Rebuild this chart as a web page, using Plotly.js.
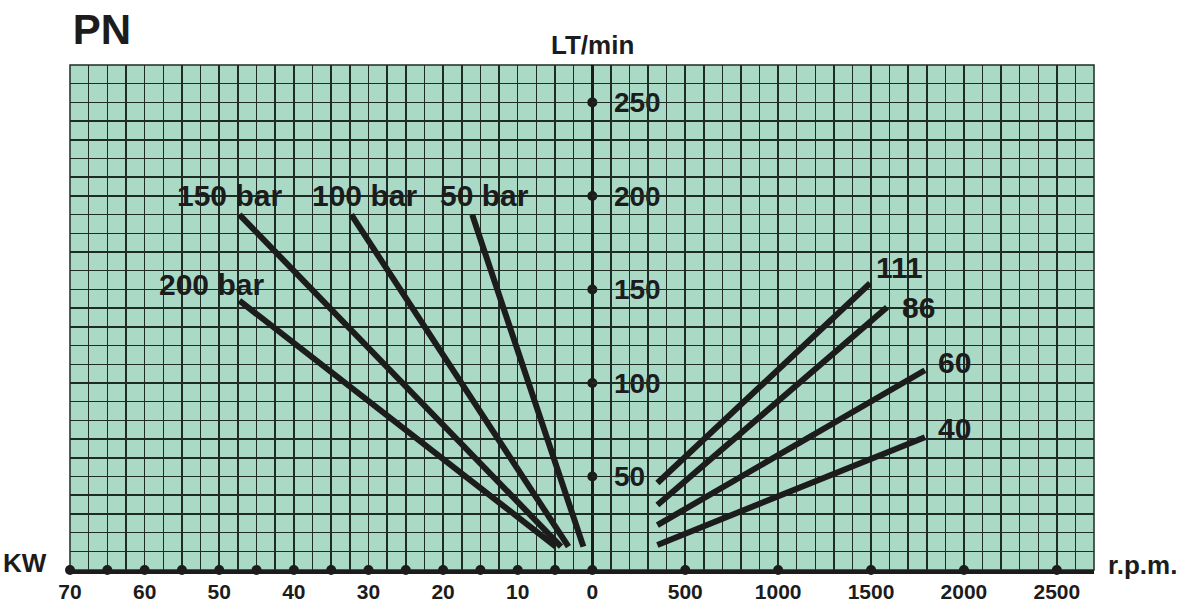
<!DOCTYPE html>
<html>
<head>
<meta charset="utf-8">
<script src="https://cdn.plot.ly/plotly-3.0.1.min.js"></script>
<style>html,body{margin:0;padding:0;background:#fff;}#chart{width:1189px;height:601px;}</style>
</head>
<body>
<div id="chart"></div>
<script>
// ---- Data ----
// Left half: power (KW) vs flow (LT/min) for each pressure
const pressureNames = ['200 bar', '150 bar', '100 bar', '50 bar'];
const pressureKW = [[47.3, 4.9], [47.3, 4.2], [32.3, 3.2], [16.1, 1.2]];
const pressureLT = [[144, 12.5], [190, 12.5], [190, 12.5], [190, 12.5]];

// Right half: flow (LT/min) vs speed (r.p.m.) for each displacement
const dispNames = ['111', '86', '60', '40'];
const dispRPM = [[350, 1495], [350, 1586], [350, 1790], [350, 1790]];
const dispLT = [[46.5, 153.3], [34.7, 140.5], [24, 106.8], [13.4, 71.0]];

// Axis ticks / labels
const kwTickVals = [70, 60, 50, 40, 30, 20, 10, 0];
const kwDots = [70, 65, 60, 55, 50, 45, 40, 35, 30, 25, 20, 15, 10, 5, 0];
const rpmTickVals = [500, 1000, 1500, 2000, 2500];
const ltTickVals = [50, 100, 150, 200, 250];

// ---- Styling ----
const INK = '#1c1c1c';
const GRID = '#1f2b25';
const BG = '#aad9c6';
const FONT = 'Liberation Sans, Arial, Helvetica, sans-serif';
const split = 0.5101;

// grid positions (every grid step) with labels only at the labelled ticks
function gridTicks(max, step, labelled) {
  const vals = [], text = [];
  for (let v = 0; v <= max + 1e-9; v += step) {
    const r = Math.round(v * 100) / 100;
    vals.push(r);
    text.push(labelled.indexOf(r) >= 0 ? String(r) : '');
  }
  return {vals, text};
}
const gKW = gridTicks(70, 2.5, kwTickVals);
const gRPM = gridTicks(2700, 100, rpmTickVals);
const gLT = gridTicks(270, 10, ltTickVals);

const traces = [];
pressureNames.forEach((n, i) => {
  traces.push({type: 'scatter', mode: 'lines', name: n, x: pressureKW[i], y: pressureLT[i],
    xaxis: 'x', yaxis: 'y', line: {color: INK, width: 6}, hoverinfo: 'skip'});
});
dispNames.forEach((n, i) => {
  traces.push({type: 'scatter', mode: 'lines', name: n, x: dispRPM[i], y: dispLT[i],
    xaxis: 'x2', yaxis: 'y', line: {color: INK, width: 6}, hoverinfo: 'skip'});
});
// axis dots
traces.push({type: 'scatter', mode: 'markers', x: kwDots, y: kwDots.map(() => 0), xaxis: 'x', yaxis: 'y',
  marker: {color: INK, size: 10}, cliponaxis: false, hoverinfo: 'skip'});
traces.push({type: 'scatter', mode: 'markers', x: rpmTickVals, y: rpmTickVals.map(() => 0), xaxis: 'x2', yaxis: 'y',
  marker: {color: INK, size: 10}, cliponaxis: false, hoverinfo: 'skip'});
traces.push({type: 'scatter', mode: 'markers', x: ltTickVals.map(() => 0), y: ltTickVals, xaxis: 'x', yaxis: 'y',
  marker: {color: INK, size: 10}, cliponaxis: false, hoverinfo: 'skip'});

const bigFont = {family: FONT, size: 30, color: INK, weight: 'bold'};
const ann = [];
const pLabelPos = [[51.1, 152.9], [48.6, 200], [30.6, 200], [14.4, 200]];
pressureNames.forEach((n, i) => ann.push({text: n, x: pLabelPos[i][0], y: pLabelPos[i][1], xref: 'x', yref: 'y',
  showarrow: false, font: bigFont, xanchor: 'center', yanchor: 'middle'}));
const dLabelPos = [[1651, 161.5], [1753, 140.3], [1947, 110.7], [1947, 75.9]];
dispNames.forEach((n, i) => ann.push({text: n, x: dLabelPos[i][0], y: dLabelPos[i][1], xref: 'x2', yref: 'y',
  showarrow: false, font: bigFont, xanchor: 'center', yanchor: 'middle'}));
ann.push({text: 'LT/min', xref: 'paper', yref: 'paper', x: split, y: 1.0396, showarrow: false,
  font: {family: FONT, size: 26, color: INK, weight: 'bold'}, xanchor: 'center', yanchor: 'middle'});
ann.push({text: 'KW', xref: 'paper', yref: 'paper', x: -0.0439, y: 0.0139, showarrow: false,
  font: {family: FONT, size: 26, color: INK, weight: 'bold'}, xanchor: 'center', yanchor: 'middle'});
ann.push({text: 'r.p.m.', xref: 'paper', yref: 'paper', x: 1.0469, y: 0.0099, showarrow: false,
  font: {family: FONT, size: 26, color: INK, weight: 'bold'}, xanchor: 'center', yanchor: 'middle'});

const common = {ticks: '', showgrid: true, gridcolor: GRID, gridwidth: 1.5, zeroline: false,
  automargin: false, fixedrange: true, tickmode: 'array'};
const layout = {
  width: 1189, height: 601,
  margin: {l: 70, r: 95, t: 65, b: 31},
  paper_bgcolor: '#ffffff', plot_bgcolor: BG,
  showlegend: false,
  title: {text: 'PN', x: 102 / 1189, xanchor: 'center', xref: 'container', y: 1 - 29 / 601, yanchor: 'middle',
    font: {family: FONT, size: 42, color: INK, weight: 'bold'}},
  xaxis: Object.assign({}, common, {domain: [0, split], range: [70, 0], tickvals: gKW.vals, ticktext: gKW.text,
    tickfont: {family: FONT, size: 21, color: INK, weight: 'bold'}, ticklabelstandoff: 0,
    showline: true, linecolor: INK, linewidth: 4, anchor: 'y'}),
  xaxis2: Object.assign({}, common, {domain: [split, 1], range: [0, 2700], tickvals: gRPM.vals, ticktext: gRPM.text,
    tickfont: {family: FONT, size: 21, color: INK, weight: 'bold'}, ticklabelstandoff: 0,
    showline: true, linecolor: INK, linewidth: 4, anchor: 'y'}),
  yaxis: Object.assign({}, common, {range: [0, 270], tickvals: gLT.vals, ticktext: gLT.text, side: 'right',
    anchor: 'free', position: split,
    tickfont: {family: FONT, size: 28, color: INK, weight: 'bold'}, ticklabelstandoff: 14,
    showline: true, linecolor: INK, linewidth: 3}),
  shapes: [
    {type: 'rect', xref: 'paper', yref: 'paper', x0: 0, x1: 1, y0: 0, y1: 1, line: {color: GRID, width: 1.5}, layer: 'below'}
  ],
  annotations: ann
};

Plotly.newPlot('chart', traces, layout, {displayModeBar: false, staticPlot: true});
</script>
</body>
</html>
